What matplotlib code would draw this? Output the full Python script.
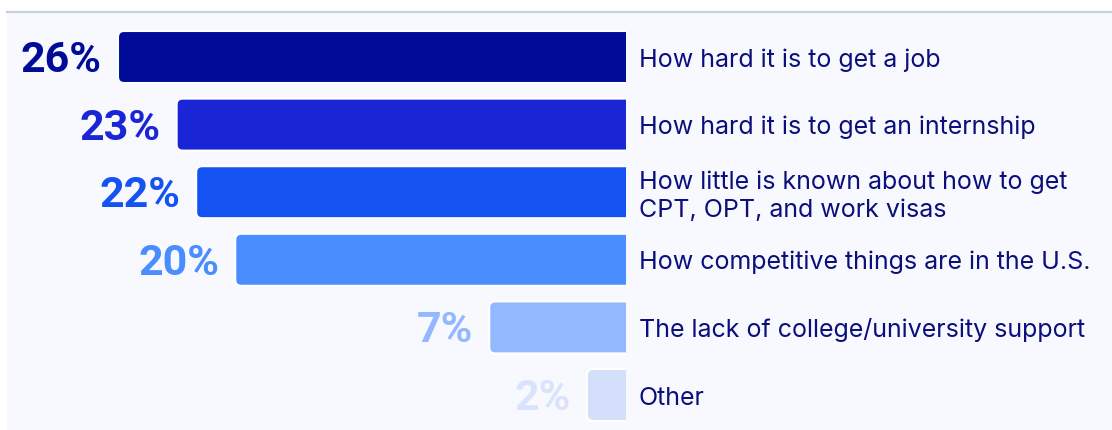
import matplotlib.pyplot as plt
from matplotlib.patches import FancyBboxPatch, Rectangle

# data
labels = [
    "How hard it is to get a job",
    "How hard it is to get an internship",
    "How little is known about how to get\nCPT, OPT, and work visas",
    "How competitive things are in the U.S.",
    "The lack of college/university support",
    "Other",
]
values = [26, 23, 22, 20, 7, 2]
bar_colors = ["#000c98", "#1a26d6", "#1453f2", "#4a8dff", "#93b8ff", "#d4e0fb"]
pct_colors = ["#000c98", "#1a26d6", "#1453f2", "#4a8dff", "#93b8ff", "#d9e4fc"]
text_color = "#0b0f7c"
panel_bg = "#f8f9fe"

W, H = 1112, 430
fig = plt.figure(figsize=(W / 100, H / 100), dpi=100)
fig.patch.set_facecolor("white")

# axes covers the light panel; x grows to the left from the bars' right edge
ax = fig.add_axes([7 / W, 0, (W - 7) / W, 418 / H])
ax.set_facecolor(panel_bg)

px_x = 508 / 26     # pixels per percent
px_y = 67.6         # pixels per row
ax.set_xlim(619 / px_x, -486 / px_x)
ax.set_ylim(len(values) - 1 + 35 / px_y, -45 / px_y)

for s in ["left", "right", "bottom"]:
    ax.spines[s].set_visible(False)
ax.spines["top"].set_color("#c8d0d8")
ax.spines["top"].set_linewidth(1.6)
ax.set_xticks([])
ax.set_yticks([])

bar_h = 52 / px_y
radius = 6 / px_x
aspect = px_x / px_y
ext = 1.0

pt = 0.72  # points per pixel
for i, (lab, v) in enumerate(zip(labels, values)):
    y0 = i - bar_h / 2
    patch = FancyBboxPatch((-ext, y0), v + ext, bar_h,
                           boxstyle=f"round,pad=0,rounding_size={radius}",
                           mutation_aspect=aspect,
                           facecolor=bar_colors[i], edgecolor="white", linewidth=1.5)
    ax.add_patch(patch)
    clip = Rectangle((0, i - 1), v + 2, 2, transform=ax.transData)
    patch.set_clip_path(clip)

    ax.annotate(f"{v}%", xy=(v, i), xytext=(-16 * pt, -15 * pt),
                textcoords="offset points", ha="right", va="baseline",
                fontsize=31, fontweight="bold", color=pct_colors[i],
                family=["Roboto", "DejaVu Sans"])

    # baseline of the last line, centred block of lines on the bar
    n = lab.count("\n") + 1
    ax.annotate(lab, xy=(0, i), xytext=(13 * pt, -(9.5 + (n - 1) * 15.75) * pt),
                textcoords="offset points", ha="left", va="baseline",
                fontsize=18, color=text_color, linespacing=1.3,
                family=["Inter", "DejaVu Sans"])

fig.savefig("out.png", dpi=100, facecolor=fig.get_facecolor())
